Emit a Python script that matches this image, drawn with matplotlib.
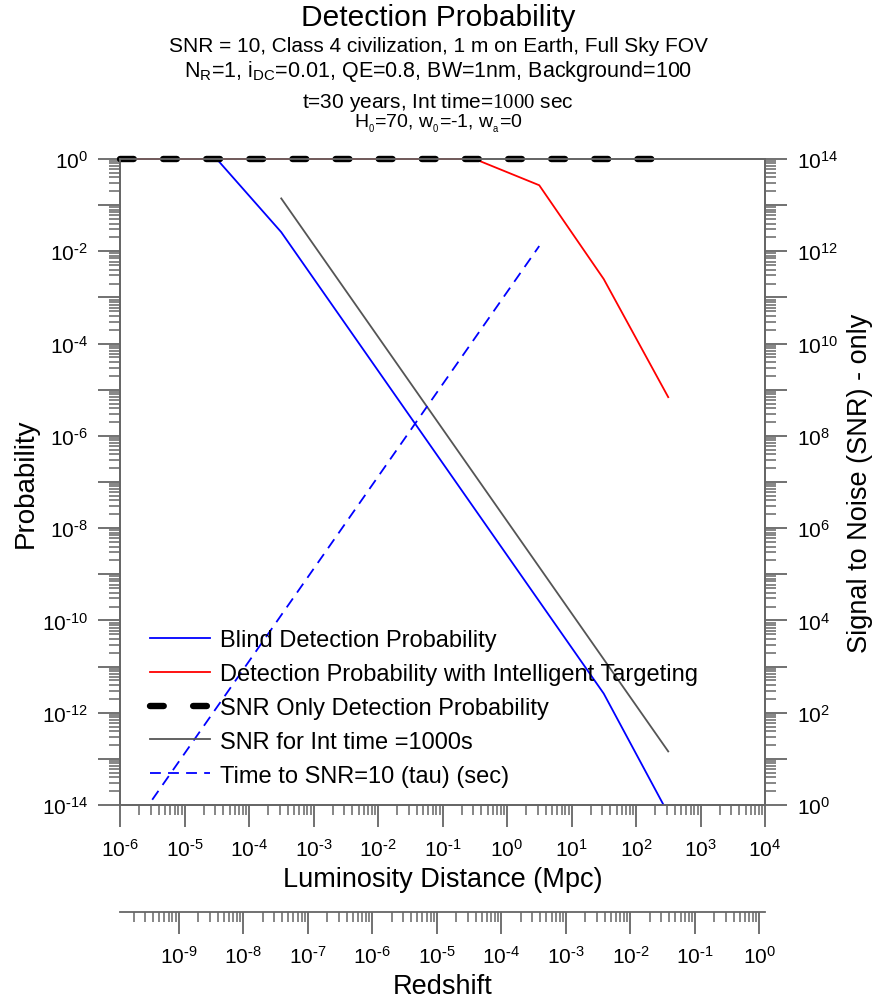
import math
import matplotlib
matplotlib.use('Agg')
import matplotlib.pyplot as plt
from matplotlib.ticker import LogLocator, FuncFormatter, NullFormatter

plt.rcParams['font.family'] = ['Liberation Sans', 'DejaVu Sans']
plt.rcParams['mathtext.fontset'] = 'custom'
plt.rcParams['mathtext.rm'] = 'Liberation Serif'
plt.rcParams['mathtext.default'] = 'regular'
plt.rcParams['axes.unicode_minus'] = False

# data (distance in Mpc)
dist_blind = [1e-6, 3.16e-5, 3.16e-4, 31.6, 316]
p_blind = [1, 1, 2.6e-2, 2.6e-12, 6.5e-15]

dist_intel = [1e-6, 0.316, 3.16, 31.6, 316]
p_intel = [1, 1, 0.27, 2.5e-3, 6.9e-6]

dist_snr_only = [1e-6, 316]
p_snr_only = [1, 1]

dist_snr = [3.16e-4, 316]
snr_1000 = [1.4e13, 14.5]

dist_tau = [3.16e-6, 3.16]
tau = [1.3, 1.3e12]

labels = ['Blind Detection Probability',
          'Detection Probability with Intelligent Targeting',
          'SNR Only Detection Probability',
          'SNR for Int time =1000s',
          'Time to SNR=10 (tau) (sec)']

gray = '#666666'

fig = plt.figure(figsize=(8.76, 10.04), dpi=100)
ax = fig.add_axes([120/876, 1-806/1004, 645/876, 646/1004])
ax2 = ax.twinx()

l1, = ax.plot(dist_blind, p_blind, color='#0000ff', lw=1.3)
l2, = ax.plot(dist_intel, p_intel, color='#ff0000', lw=1.3, clip_on=False)
l3, = ax.plot(dist_snr_only, p_snr_only, color='black', lw=4.6,
              dashes=(2.15, 4.6), dash_capstyle='round', clip_on=False)
l4, = ax2.plot(dist_snr, snr_1000, color='#555555', lw=1.3)
l5, = ax2.plot(dist_tau, tau, color='#0000ff', lw=1.3, dashes=(6, 4))

ax.set_xscale('log')
ax.set_yscale('log')
ax2.set_yscale('log')
ax.set_xlim(1e-6, 1e4)
ax.set_ylim(1e-14, 1.0)
ax2.set_ylim(1, 1e14)
ax.set_zorder(ax2.get_zorder() + 1)
ax.patch.set_visible(False)


def pow_label(e):
    if e < 0:
        return r'$10^{\text{-}%d}$' % (-e)
    return '$10^{%d}$' % e


def even_fmt(v, pos):
    e = int(round(math.log10(v)))
    return pow_label(e) if e % 2 == 0 else ''


def all_fmt(v, pos):
    return pow_label(int(round(math.log10(v))))


for a in (ax, ax2):
    a.yaxis.set_major_locator(LogLocator(base=10, numticks=40))
    a.yaxis.set_minor_locator(LogLocator(base=10, subs=range(2, 10), numticks=40))
    a.yaxis.set_major_formatter(FuncFormatter(even_fmt))
    a.yaxis.set_minor_formatter(NullFormatter())
    for s in a.spines.values():
        s.set_color(gray)
        s.set_linewidth(1.3)
    a.tick_params(which='major', direction='out', length=16, width=1.3, color=gray,
                  labelsize=15, pad=7)
    a.tick_params(which='minor', direction='out', length=8, width=1.1, color=gray)

ax.xaxis.set_major_locator(LogLocator(base=10, numticks=40))
ax.xaxis.set_minor_locator(LogLocator(base=10, subs=range(2, 10), numticks=40))
ax.xaxis.set_major_formatter(FuncFormatter(all_fmt))
ax.xaxis.set_minor_formatter(NullFormatter())
ax.tick_params(axis='x', which='major', length=16, pad=8)
ax.tick_params(axis='x', which='minor', length=7)

ax.set_xlabel('Luminosity Distance (Mpc)', fontsize=19.5, labelpad=4)
ax.set_ylabel('Probability', fontsize=20, labelpad=2)
ax2.set_ylabel('Signal to Noise (SNR) - only', fontsize=19.5, labelpad=6)

ax.legend([l1, l2, l3, l4, l5], labels, loc='lower left', bbox_to_anchor=(0.032, 0.014),
          frameon=False, fontsize=17, handlelength=2.55, handletextpad=0.42,
          labelspacing=0.5, borderaxespad=0)

# redshift axis below
axz = fig.add_axes([120/876, 1-913/1004, 645/876, 0.0001])
axz.set_xscale('log')
axz.set_xlim(1.23e-10, 1.22)
axz.set_yticks([])
for k in ('top', 'left', 'right'):
    axz.spines[k].set_visible(False)
axz.spines['bottom'].set_color(gray)
axz.spines['bottom'].set_linewidth(1.3)
axz.patch.set_visible(False)
axz.xaxis.set_major_locator(LogLocator(base=10, numticks=40))
axz.xaxis.set_minor_locator(LogLocator(base=10, subs=range(2, 10), numticks=40))
axz.xaxis.set_major_formatter(FuncFormatter(all_fmt))
axz.xaxis.set_minor_formatter(NullFormatter())
axz.tick_params(which='major', direction='out', length=16, width=1.3, color=gray,
                labelsize=15, pad=8)
axz.tick_params(which='minor', direction='out', length=7, width=1.1, color=gray)
axz.set_xlabel('Redshift', fontsize=19.5, labelpad=4)

fig.text(0.5, 1-18/1004, 'Detection Probability', ha='center', va='center', fontsize=21.5)
fig.text(0.5, 1-47/1004, 'SNR = 10, Class 4 civilization, 1 m on Earth, Full Sky FOV',
         ha='center', va='center', fontsize=15)
fig.text(0.5, 1-72/1004,
         r'N$_\mathregular{R}$=1, i$_\mathregular{DC}$=0.01, QE=0.8, BW=1nm, Background=100',
         ha='center', va='center', fontsize=15.5)
fig.text(0.5, 1-103/1004, r't=30 years, Int time=$\mathrm{1000}$ sec',
         ha='center', va='center', fontsize=15)
fig.text(0.5, 1-124/1004,
         r'H$_{_0}$=70, w$_{_0}$=-1, w$_{_a}$=0',
         ha='center', va='center', fontsize=14)

fig.savefig('out.png', dpi=100)
